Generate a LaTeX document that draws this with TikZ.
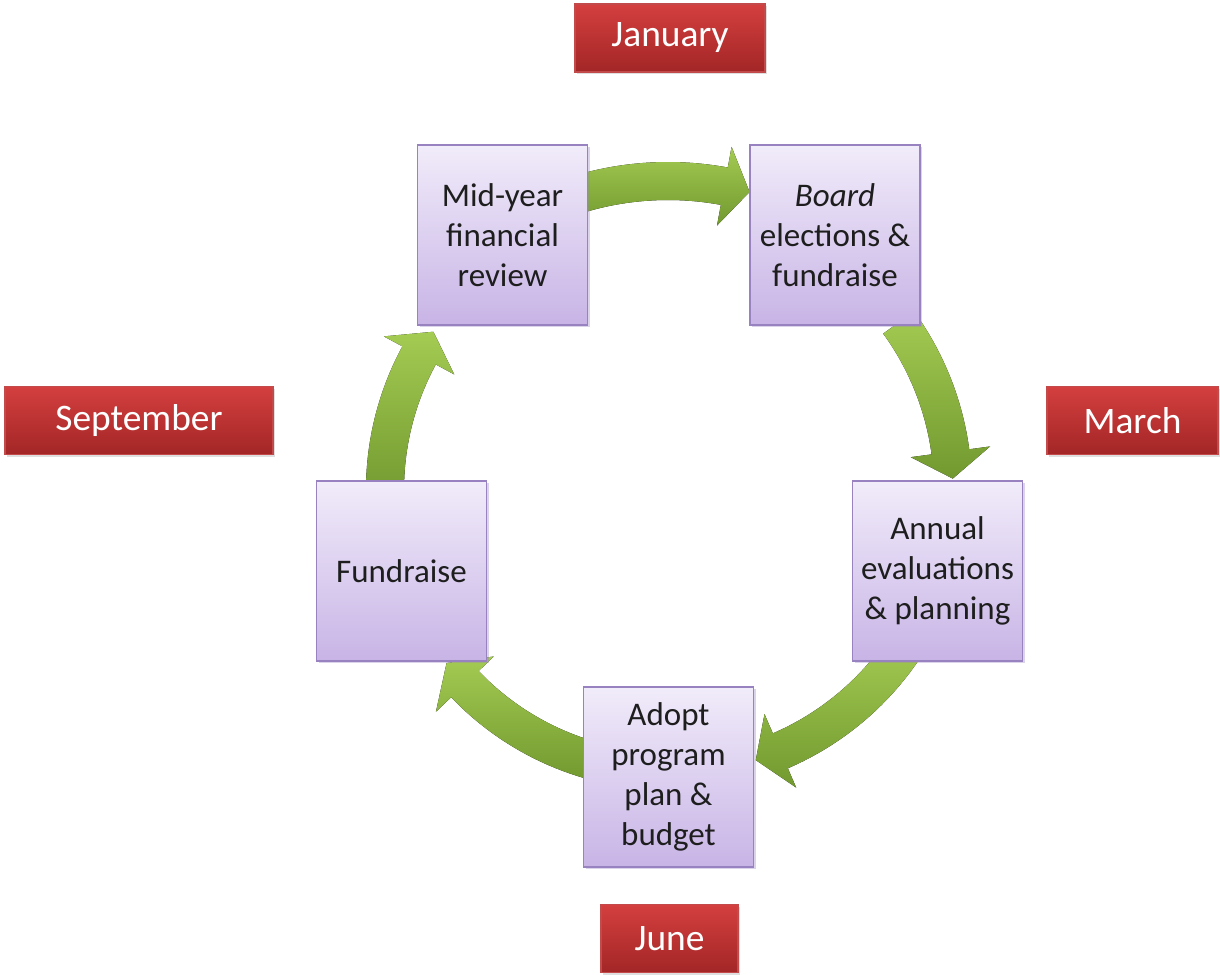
\documentclass[tikz,border=0pt]{standalone}
\usepackage{fontspec}
\setmainfont{Carlito}
\usetikzlibrary{shadows}
\definecolor{boxtop}{HTML}{F1ECFA}
\definecolor{boxbot}{HTML}{C8B4E6}
\definecolor{boxline}{HTML}{9882C0}
\definecolor{redtop}{HTML}{D43F3F}
\definecolor{redbot}{HTML}{A32626}
\definecolor{redline}{HTML}{C24A4A}
\definecolor{grtop}{HTML}{A4CB52}
\definecolor{grbot}{HTML}{71992F}
\definecolor{txt}{HTML}{1E1E1E}
\tikzset{
  stepbox/.style={draw=boxline, line width=0.9pt, top color=boxtop, bottom color=boxbot,
    minimum width=85pt, minimum height=90pt, inner sep=2pt, align=center,
    text=txt, font=\fontsize{16.5}{20}\selectfont,
    drop shadow={shadow xshift=1.2pt, shadow yshift=-1.2pt, opacity=0.35, fill=boxline}},
  monthbox/.style={draw=redline, line width=0.6pt, top color=redtop, bottom color=redbot,
    minimum height=34pt, inner sep=0pt, text=white, font=\fontsize{18.7}{22}\selectfont,
    drop shadow={shadow xshift=1pt, shadow yshift=-1pt, opacity=0.25}},
  arrowfill/.style={top color=grtop, bottom color=grbot}
}
\newcommand\cycarrow[4]{%
  \fill[arrowfill] ([shift={(c)}]#2:#1+19) arc[start angle=#2, end angle=#3, radius=#1+19]
    -- ([shift={(c)}]#3:#1+40) -- ([shift={(c)}]#4:#1) -- ([shift={(c)}]#3:#1-40)
    -- ([shift={(c)}]#3:#1-19) arc[start angle=#3, end angle=#2, radius=#1-19] -- cycle;}
\begin{document}
\begin{tikzpicture}[x=0.5pt, y=-0.5pt]
\useasboundingbox (0,0) rectangle (1220,974);
\fill[white] (0,0) rectangle (1220,974);
\coordinate (c) at (668,490);
% arrows
\cycarrow{309}{-108}{-79.5}{-74.7}
\cycarrow{285}{-36}{-7.7}{-2.3}
\cycarrow{284}{34}{66.7}{72}
\cycarrow{281}{104}{136.3}{142}
\cycarrow{283}{178}{208.4}{214}
% step boxes
\node[stepbox] (mid) at (502.5,235) {Mid-year\\financial\\review};
\node[stepbox] (board) at (835,235) {\textit{Board}\\elections \&\\fundraise};
\node[stepbox] (annual) at (937.5,571) {Annual\\evaluations\\\& planning};
\node[stepbox] (adopt) at (668.5,777) {Adopt\\program\\plan \&\\budget};
\node[stepbox] (fund) at (401.5,571) {Fundraise};
% months
\node[monthbox, minimum width=95pt] (jan) at (670,38) {January};
\node[monthbox, minimum width=134pt] (sep) at (139,420.5) {September};
\node[monthbox, minimum width=85.5pt] (mar) at (1132.5,420.5) {March};
\node[monthbox, minimum width=68.5pt] (jun) at (669.5,938.5) {June};
\end{tikzpicture}
\end{document}
